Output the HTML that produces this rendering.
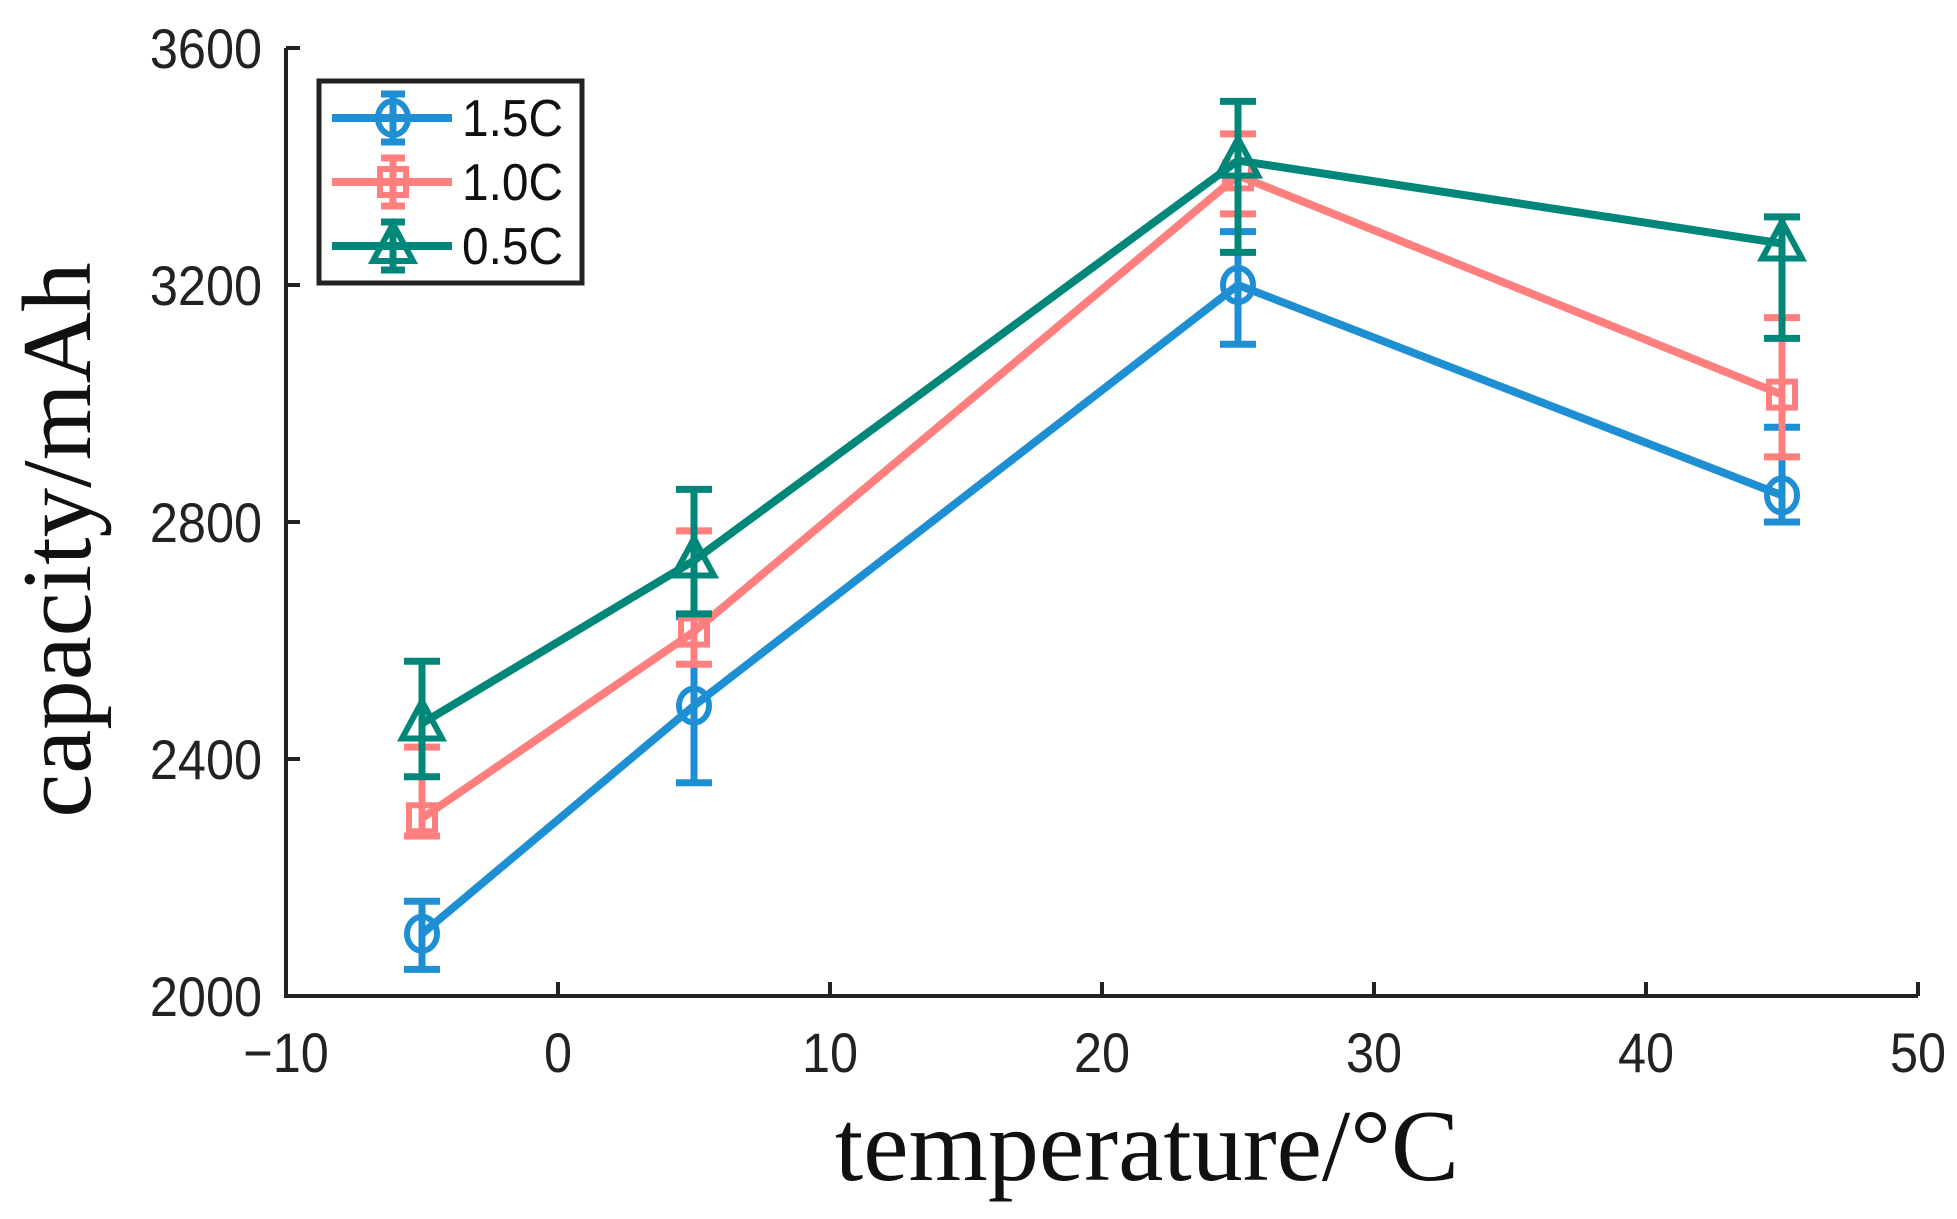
<!DOCTYPE html>
<html><head><meta charset="utf-8"><style>
html,body{margin:0;padding:0;background:#fff;width:1957px;height:1219px;overflow:hidden}
svg{display:block}
</style></head><body>
<svg id="chart" width="1957" height="1219" viewBox="0 0 1957 1219" xmlns="http://www.w3.org/2000/svg">
<g id="plot"></g>
<g id="axes"></g>
<text x="1147" y="1180" text-anchor="middle" font-family="Liberation Serif, serif" font-size="102" fill="#111">temperature/°C</text>
<text transform="translate(90,540) rotate(-90)" text-anchor="middle" font-family="Liberation Serif, serif" font-size="99" fill="#111">capacity/mAh</text>
<g id="legend"></g>
</svg>
<script>
const temps = [-5, 5, 25, 45];
const seriesNames = ["1.5C", "1.0C", "0.5C"];
const val15 = [2105, 2490, 3200, 2845];
const lo15 = [2045, 2360, 3100, 2800];
const hi15 = [2160, 2640, 3290, 2960];
const val10 = [2300, 2615, 3385, 3015];
const lo10 = [2270, 2560, 3320, 2910];
const hi10 = [2420, 2785, 3455, 3145];
const val05 = [2460, 2735, 3410, 3270];
const lo05 = [2370, 2645, 3255, 3110];
const hi05 = [2565, 2855, 3510, 3315];
const xTicks = [-10, 0, 10, 20, 30, 40, 50];
const yTicks = [2000, 2400, 2800, 3200, 3600];

const NS = "http://www.w3.org/2000/svg";
const X0 = 286, X1 = 1918, Y0 = 996, Y1 = 48;
const xs = v => X0 + (v + 10) / 60 * (X1 - X0);
const ys = v => Y0 - (v - 2000) / 1600 * (Y0 - Y1);
function mk(tag, attrs, parent) { const e = document.createElementNS(NS, tag); for (const k in attrs) e.setAttribute(k, attrs[k]); parent.appendChild(e); return e; }

const axes = document.getElementById('axes');
const ax = mk('path', {d: `M${X0},${Y1} V${Y0} H${X1}`, fill: 'none', stroke: '#222', 'stroke-width': 4}, axes);


xTicks.forEach(t => {
  const x = xs(t);
  const tk = mk('line', {x1: x, x2: x, y1: Y0, y2: Y0 - 14, stroke: '#222', 'stroke-width': 4}, axes);
  
  
  const lb = mk('text', {transform: `translate(${x},1072) scale(0.9,1)`, 'text-anchor': 'middle', 'font-family': 'Liberation Sans, sans-serif', 'font-size': 56, fill: '#222'}, axes);
  lb.textContent = t < 0 ? '\u2212' + Math.abs(t) : String(t);
  
  
});
yTicks.forEach(t => {
  const y = ys(t);
  const tk = mk('line', {x1: X0, x2: X0 + 14, y1: y, y2: y, stroke: '#222', 'stroke-width': 4}, axes);
  
  
  const lb = mk('text', {transform: `translate(262,${y + 20}) scale(0.9,1)`, 'text-anchor': 'end', 'font-family': 'Liberation Sans, sans-serif', 'font-size': 56, fill: '#222'}, axes);
  lb.textContent = String(t);
  
  
});

const colors = ["#1f8fd3", "#ff7f7f", "#00877a"];
const markers = ["circle", "square", "triangle"];
const vals = [val15, val10, val05], los = [lo15, lo10, lo05], his = [hi15, hi10, hi05];
const plot = document.getElementById('plot');

function marker(kind, cx, cy, c, parent, fill) {
  let m;
  if (kind === 'circle') m = mk('ellipse', {cx, cy, rx: 15, ry: 17, fill: fill || '#fff', 'fill-opacity': fill ? 1 : 0, stroke: c, 'stroke-width': 6}, parent);
  else if (kind === 'square') m = mk('rect', {x: cx - 13, y: cy - 13, width: 26, height: 26, fill: fill || 'none', stroke: c, 'stroke-width': 6}, parent);
  else m = mk('polygon', {points: `${cx},${cy - 22} ${cx + 20},${cy + 15} ${cx - 20},${cy + 15}`, fill: fill || 'none', stroke: c, 'stroke-width': 6, 'stroke-linejoin': 'miter'}, parent);
  return m;
}

vals.forEach((v, s) => {
  const g = mk('g', {}, plot);
  
  
  const pts = temps.map((t, i) => xs(t) + ',' + ys(v[i])).join(' ');
  const ln = mk('polyline', {points: pts, fill: 'none', stroke: colors[s], 'stroke-width': 8, 'stroke-linejoin': 'round'}, g);
  
  
  temps.forEach((t, i) => {
    const x = xs(t);
    const eb = mk('path', {d: `M${x},${ys(los[s][i])} V${ys(his[s][i])} M${x - 18},${ys(los[s][i])} H${x + 18} M${x - 18},${ys(his[s][i])} H${x + 18}`, fill: 'none', stroke: colors[s], 'stroke-width': 7}, g);
    
    
    const m = marker(markers[s], x, ys(v[i]), colors[s], g);
    
    
  });
});

const leg = document.getElementById('legend');
const box = mk('rect', {x: 319, y: 81, width: 263, height: 202, fill: '#fff', stroke: '#222', 'stroke-width': 5}, leg);


seriesNames.forEach((n, s) => {
  const y = 118 + s * 64;
  const g = mk('g', {}, leg);
  
  
  mk('line', {x1: 332, x2: 452, y1: y, y2: y, stroke: colors[s], 'stroke-width': 8}, g);
  mk('path', {d: `M393,${y - 24} V${y + 24} M381,${y - 24} H405 M381,${y + 24} H405`, stroke: colors[s], 'stroke-width': 7, fill: 'none'}, g);
  marker(markers[s], 393, y, colors[s], g);
  const tx = mk('text', {transform: `translate(462,${y + 18}) scale(0.92,1)`, 'font-family': 'Liberation Sans, sans-serif', 'font-size': 52, fill: '#111'}, g);
  tx.textContent = n;
  
  
});
</script>
</body></html>
